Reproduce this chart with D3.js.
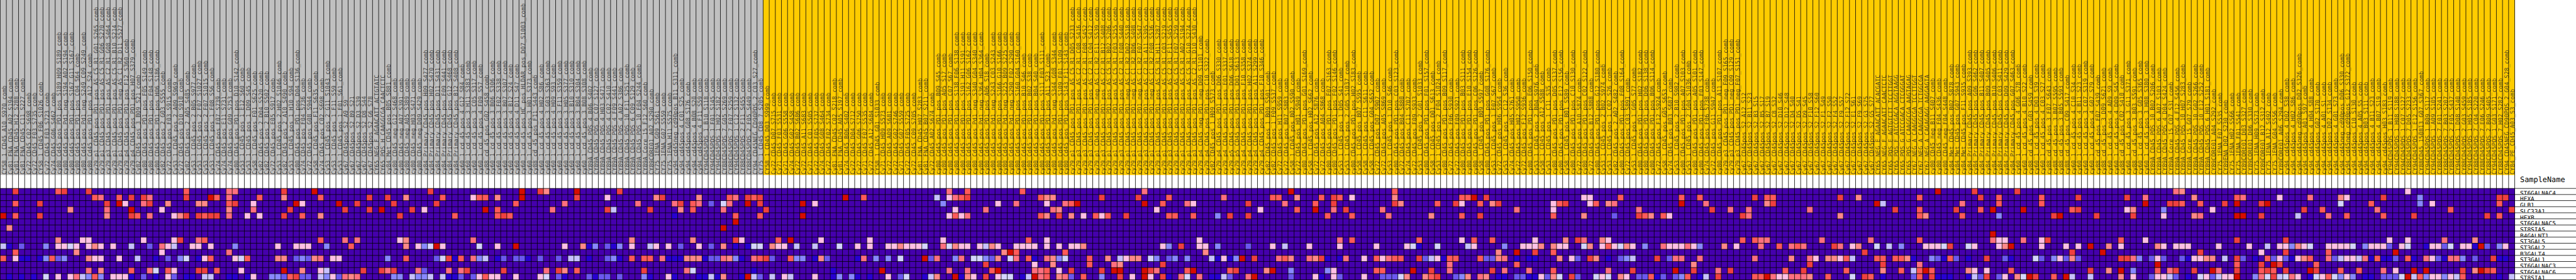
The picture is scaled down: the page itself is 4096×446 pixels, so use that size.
<!DOCTYPE html>
<html><head><meta charset="utf-8">
<script src="https://cdn.jsdelivr.net/npm/d3@7"></script>
<style>html,body{margin:0;padding:0;background:#fff;overflow:hidden}svg{display:block}text{font-family:"DejaVu Sans Mono",monospace;fill:#000;text-rendering:geometricPrecision}.sample{fill:#222;fill-opacity:.8}</style>
</head><body><div id="chart"></div>
<script>
const sampleNames = `CY58_1_CD45_A10_S970_comb Cy81_FNA_CD45_A02_S194_comb Cy81_FNA_CD45_H12_S288_comb Cy81_FNA_CD45_C11_S227_comb Cy72_CD45_C02_S698_comb Cy72_CD45_F03_S735_comb CY58_1_CD45_F06_S1026_comb Cy72_CD45_F03_S723_comb Cy74_CD45_G06_S462_comb cy80_Cd45_pos_PD1_pos_S189_H09_S189_comb cy80_Cd45_pos_Pd1_neg_S194_A02_S194_comb cy80_Cd45_pos_PD1_pos_S167_G11_S167_comb cy80_Cd45_pos_PD1_pos_C04_S64_comb cy80_Cd45_pos_Pd1_neg_S249_C09_S249_comb cy80_Cd45_pos_PD1_pos_A12_S24_comb cy79_p1_CD45_pos_PD1_pos_AS_C5_R1_G01_S265_comb cy79_p1_CD45_pos_PD1_pos_AS_C5_R1_G06_S270_comb cy79_p3_CD45_pos_PD1_pos_AS_C2_R1_G08_S464_comb cy79_p1_CD45_pos_PD1_pos_AS_C5_R1_B10_S214_comb cy79_p1_CD45_pos_PD1_neg_AS_C1_R2_D11_S527_comb cy79_p4_CD45_pos_PD1_pos_F12_S360_comb cy79_p4_CD45_pos_PD1_pos_H07_S379_comb Cy82_CD45_pos_3_B09_S21_comb cy80_CD45_pos_PD1_pos_F05_S149_comb cy80_CD45_pos_PD1_pos_F04_S148_comb cy80_CD45_pos_PD1_pos_H06_S186_comb Cy82_CD45_pos_2_G03_S555_comb Cy72_CD45_pos_F03_S915_comb Cy53_1_CD45_pos_2_A09_S969_comb Cy72_CD45_pos_D10_S910_comb Cy82_CD45_pos_2_A05_S485_comb Cy53_1_CD45_pos_2_B05_S977_comb Cy53_1_CD45_pos_2_F07_S1027_comb Cy53_1_CD45_pos_2_F07_S1015_comb Cy53_1_CD45_pos_1_F08_S56_comb Cy74_CD45_pos_F07_S739_comb Cy74_CD45_pos_E11_S731_comb Cy74_CD45_pos_G09_S753_comb cy80_CD45_pos_PD1_pos_D10_S142_comb Cy53_1_CD45_pos_1_E12_S60_comb Cy53_1_CD45_pos_1_D09_S45_comb Cy58_1_CD45_pos_F01_S625_comb
Cy82_CD45_pos_2_D04_S520_comb Cy82_CD45_pos_2_B10_S502_comb Cy72_CD45_pos_E05_S917_comb Cy53_1_CD45_pos_2_H02_S1046_comb Cy82_CD45_pos_2_A10_S490_comb Cy53_1_CD45_pos_1_H10_S94_comb cy80_CD45_pos_PD1_pos_D04_S136_comb Cy74_CD45_pos_F04_S736_comb Cy72_CD45_pos_G08_S944_comb Cy58_1_CD45_pos_F11_S635_comb Cy74_CD45_pos_C02_S698_comb Cy53_1_CD45_pos_2_G11_S1043_comb Cy53_1_CD45_pos_1_F11_S59_comb Cy53_1_CD45_pos_1_F01_S61_comb Cy67_CD45pos_S2_A9_S9 Cy67_CD45pos_S2_B9_S21 Cy67_CD45pos_S2_D3_S39 Cy67_CD45pos_S2_D8_S44 Cy67_CD45pos_S2_G6_S78 CY65_NEG_F_AGAACATT_ACTGTATC CY65_POS_H_CAAGGCGA_CAACTCTC cy84_Met_CD45_pos_B05_S881_comb cy80_CD45_neg_G12_S468_comb cy80_CD45_neg_A07_S391_comb cy80_CD45_neg_A05_S389_comb cy80_CD45_neg_H03_S471_comb cy80_CD45_neg_D09_S429_comb cy84_Primary_CD45_pos_H09_S477_comb cy84_Primary_CD45_pos_H02_S470_comb cy84_Primary_CD45_pos_D11_S431_comb cy84_Primary_CD45_pos_F09_S441_comb cy84_Primary_CD45_pos_G12_S468_comb cy84_Primary_CD45_pos_B12_S408_comb cy60_1_cd_45_pos_4_G12_S84_comb cy60_1_cd_45_pos_3_H11_S383_comb cy60_1_cd_45_pos_3_C05_S317_comb cy60_1_cd_45_pos_4_F09_S57_comb cy88_cd_45_pos_G02_S458_comb cy60_1_cd_45_pos_3_B06_S306_comb cy60_1_cd_45_pos_3_F02_S338_comb cy60_1_cd_45_pos_3_B07_S307_comb cy60_1_cd_45_pos_4_B12_S24_comb cy60_1_cd_45_pos_4_D11_S47_comb cy60_1_cd_45_pos_HC_pos_HLDAR_pos_D07_S1003_comb cy60_1_cd_45_pos_3_H01_S373_comb
cy88_cd_45_pos_F11_S443_comb cy60_1_cd_45_pos_4_H02_S86_comb cy60_1_cd_45_pos_3_G03_S363_comb cy60_1_cd_45_pos_4_H09_S93_comb cy60_1_cd_45_pos_3_F11_S359_comb cy60_1_cd_45_pos_3_H05_S377_comb cy60_1_cd_45_pos_3_B10_S310_comb cy60_1_cd_45_pos_3_B04_S304_comb cy60_1_cd_45_pos_3_B08_S308_comb CY89A_CD45_POS_4_B06_S402_comb CY89A_CD45_POS_6_C07_S127_comb CY89A_CD45_POS_4_H03_S471_comb CY89A_CD45_POS_4_C02_S410_comb CY89A_CD45_POS_4_F09_S441_comb CY89A_CD45_POS_4_A02_S386_comb CY89A_CD45_POS_10_F11_S251_comb CY89A_CD45_POS_6_C09_S129_comb CY89A_CD45_POS_10_F04_S244_comb CY89A_Core_15_F12_S60_comb CY89CORE01_A02_S290_comb CY75_1ENA_G09_S561_comb CY75_1ENA_G07_S559_comb CY75_1ENA_H11_S575_comb cy94_cd45neg_cd90pos_B11_S311_comb cy94_cd45pos_4_C01_S25_comb cy94_cd45pos_G08_S176_comb cy94_cd45pos_4_B08_S20_comb cy94_cd45pos_4_F11_S59_comb CY94CD45POS_1_B10_S118_comb CY94CD45POS_1_F01_S145_comb CY94CD45POS_1_H02_S182_comb CY88CD45POS_7_G05_S269_comb CY88CD45POS_7_F07_S259_comb CY94CD45POS_1_C12_S132_comb CY88CD45POS_2_F11_S455_comb CY88CD45POS_2_F05_S449_comb CY94_CD45NEG_CD90POS_2_C03_S27_comb CY75_1_CD45_CD8_7_S205_comb
CY58_1_CD45_D03_S999_comb Cy72_CD45_D07_S715_comb Cy71_CD45_F03_S531_comb Cy71_CD45_G06_S558_comb Cy74_CD45_G02_S458_comb Cy72_CD45_B02_S686_comb Cy72_CD45_A11_S683_comb Cy71_CD45_C01_S505_comb Cy72_CD45_F05_S737_comb Cy74_CD45_G08_S464_comb Cy72_CD45_F02_S734_comb Cy81_FNA_CD45_C02_S218_comb Cy81_FNA_CD45_A05_S197_comb Cy74_CD45_B06_S402_comb Cy72_CD45_D04_S712_comb Cy72_CD45_G06_S750_comb Cy71_CD45_F07_S535_comb Cy72_CD45_A12_S684_comb CY58_1_CD45_G01_S1033_comb Cy71_CD45_H09_S573_comb Cy72_CD45_A09_S681_comb Cy72_CD45_G02_S746_comb Cy71_CD45_G07_S559_comb Cy72_CD45_F05_S725_comb Cy72_CD45_C09_S705_comb Cy81_FNA_CD45_H07_S283_comb Cy81_FNA_CD45_B07_S211_comb Cy72_CD45_A02_S674_comb cy80_Cd45_pos_PD1_pos_B09_S45_comb cy80_Cd45_pos_PD1_pos_A05_S17_comb cy80_Cd45_pos_PD1_pos_C07_S67_comb cy80_Cd45_pos_PD1_pos_S138_F06_S138_comb cy80_Cd45_pos_PD1_pos_S191_H11_S191_comb cy80_Cd45_pos_PD1_pos_S162_G06_S162_comb cy80_Cd45_pos_Pd1_neg_S340_G04_S340_comb cy80_Cd45_pos_Pd1_neg_S364_H04_S364_comb cy80_Cd45_pos_PD1_pos_A06_S18_comb cy80_Cd45_pos_Pd1_neg_S243_C03_S243_comb cy80_Cd45_pos_PD1_pos_S166_G10_S166_comb cy80_Cd45_pos_Pd1_neg_S225_B09_S225_comb cy80_Cd45_pos_Pd1_neg_S290_F02_S290_comb cy80_Cd45_pos_PD1_pos_S160_G04_S160_comb cy80_Cd45_pos_PD1_pos_B10_S46_comb cy80_Cd45_pos_PD1_pos_B02_S38_comb cy80_Cd45_pos_PD1_pos_B04_S40_comb cy80_Cd45_pos_PD1_pos_S111_F03_S111_comb cy80_Cd45_pos_PD1_pos_A11_S23_comb cy80_Cd45_pos_Pd1_neg_S344_G08_S344_comb cy80_Cd45_pos_PD1_pos_S109_F01_S109_comb cy80_Cd45_pos_PD1_pos_S143_F11_S143_comb cy79_p1_CD45_pos_PD1_pos_AS_C5_R1_D05_S233_comb cy79_p3_CD45_pos_PD1_pos_AS_C2_R1_C08_S416_comb
cy79_p3_CD45_pos_PD1_pos_AS_C2_R1_F08_S452_comb cy79_p3_CD45_pos_PD1_pos_AS_C2_R1_C04_S412_comb cy79_p1_CD45_pos_PD1_neg_AS_C1_R2_E11_S539_comb cy79_p3_CD45_pos_PD1_pos_AS_C2_R1_B12_S408_comb cy79_p1_CD45_pos_PD1_pos_AS_C5_R1_B02_S206_comb cy79_p1_CD45_pos_PD1_pos_AS_C5_R1_F03_S255_comb cy79_p3_CD45_pos_PD1_pos_AS_C2_R1_F08_S440_comb cy79_p1_CD45_pos_PD1_neg_AS_C1_R2_D02_S518_comb cy79_p1_CD45_pos_PD1_neg_AS_C1_R2_B06_S498_comb cy79_p1_CD45_pos_PD1_neg_AS_C1_R2_F07_S547_comb cy79_p3_CD45_pos_PD1_pos_AS_C2_R1_A11_S395_comb cy79_p1_CD45_pos_PD1_neg_AS_C1_R2_F08_S536_comb cy79_p1_CD45_pos_PD1_pos_AS_C5_R1_H11_S287_comb cy79_p1_CD45_pos_PD1_pos_AS_C5_R1_C03_S219_comb cy79_p3_CD45_pos_PD1_pos_AS_C2_R1_F11_S455_comb cy79_p1_CD45_pos_PD1_pos_AS_C5_R1_F07_S259_comb cy79_p1_CD45_pos_PD1_pos_AS_C5_R1_A02_S194_comb cy79_p1_CD45_pos_PD1_pos_AS_C5_R1_G10_S274_comb cy79_p3_CD45_pos_PD1_pos_AS_C2_R1_D10_S430_comb cy79_p4_CD45_neg_PD1_neg_D09_S1101_comb cy79_p4_CD45_pos_PD1_pos_C10_S322_comb Cy82_CD45_pos_1_H09_S573_comb cy79_p4_CD45_pos_PD1_pos_D06_S330_comb cy79_p4_CD45_pos_PD1_pos_E01_S337_comb cy79_p5_CD45_pos_PD1_pos_D06_S618_comb cy79_p5_CD45_pos_PD1_pos_D01_S613_comb cy79_p4_CD45_pos_PD1_pos_F10_S358_comb cy79_p4_CD45_pos_PD1_pos_H02_S374_comb cy79_p4_CD45_pos_PD1_pos_A11_S299_comb cy79_p4_CD45_pos_PD1_pos_F10_S346_comb Cy82_CD45_pos_1_B09_S501_comb Cy82_CD45_pos_1_F09_S537_comb Cy72_CD45_pos_H11_S959_comb Cy72_CD45_pos_B07_S883_comb Cy58_1_CD45_pos_B02_S590_comb Cy72_CD45_pos_H01_S949_comb cy80_CD45_pos_PD1_pos_G01_S169_comb Cy58_1_CD45_pos_H02_S662_comb Cy72_CD45_pos_A12_S876_comb Cy72_CD45_pos_A04_S868_comb cy80_CD45_pos_PD1_pos_F07_S163_comb cy80_CD45_pos_PD1_pos_F02_S146_comb Cy53_1_CD45_pos_1_D05_S41_comb Cy53_1_CD45_pos_2_G05_S1037_comb cy80_CD45_pos_PD1_pos_H02_S183_comb
Cy58_1_CD45_pos_B07_S595_comb Cy58_1_CD45_pos_C11_S611_comb Cy58_1_CD45_pos_G04_S652_comb Cy72_CD45_pos_D07_S907_comb Cy72_CD45_pos_A05_S869_comb Cy53_1_CD45_pos_1_D10_S46_comb cy80_CD45_pos_PD1_pos_C03_S123_comb Cy72_CD45_pos_B04_S880_comb Cy74_CD45_pos_C11_S707_comb Cy72_CD45_pos_F09_S933_comb Cy53_1_CD45_pos_2_G01_S1033_comb cy80_CD45_pos_PD1_pos_F01_S157_comb Cy58_1_CD45_pos_D01_S613_comb Cy53_1_CD45_pos_2_F04_S1024_comb cy80_CD45_pos_PD1_pos_B09_S117_comb Cy72_CD45_pos_F06_S930_comb Cy72_CD45_pos_F09_S921_comb cy80_CD45_pos_PD1_pos_B03_S111_comb cy80_CD45_pos_PD1_pos_E10_S154_comb cy80_CD45_pos_PD1_pos_C06_S126_comb Cy58_1_CD45_pos_B09_S597_comb cy80_CD45_pos_PD1_pos_G08_S176_comb Cy53_1_CD45_pos_1_F07_S67_comb Cy72_CD45_pos_H06_S954_comb Cy53_1_CD45_pos_1_C12_S36_comb Cy74_CD45_pos_H05_S761_comb Cy72_CD45_pos_H02_S950_comb Cy72_CD45_pos_F12_S936_comb cy80_CD45_pos_PD1_pos_E06_S150_comb Cy53_1_CD45_pos_2_B04_S976_comb Cy58_1_CD45_pos_A12_S588_comb Cy53_1_CD45_pos_1_C11_S35_comb cy80_CD45_pos_PD1_pos_D05_S137_comb cy80_CD45_pos_PD1_pos_E12_S156_comb Cy58_1_CD45_pos_B01_S589_comb cy80_CD45_pos_PD1_pos_C10_S130_comb Cy72_CD45_pos_A10_S874_comb cy80_CD45_pos_PD1_pos_C02_S122_comb Cy72_CD45_pos_B12_S888_comb cy80_CD45_pos_PD1_pos_G12_S180_comb Cy53_1_CD45_pos_2_B02_S974_comb Cy53_1_CD45_pos_1_C02_S26_comb Cy82_CD45_pos_2_A02_S482_comb cy80_CD45_pos_PD1_pos_F08_S164_comb Cy72_CD45_pos_C03_S891_comb
Cy53_1_CD45_pos_1_G05_S77_comb cy80_CD45_pos_PD1_pos_H02_S182_comb cy80_CD45_pos_PD1_pos_D06_S138_comb cy80_CD45_pos_PD1_pos_B06_S114_comb Cy72_CD45_pos_F12_S924_comb Cy58_1_CD45_pos_G05_S653_comb Cy74_CD45_pos_B03_S687_comb Cy53_1_CD45_pos_2_B10_S982_comb cy80_CD45_pos_PD1_pos_A07_S103_comb Cy53_1_CD45_pos_2_G04_S1036_comb cy80_CD45_pos_PD1_pos_A05_S101_comb cy80_CD45_pos_PD1_pos_F03_S147_comb Cy74_CD45_pos_F06_S738_comb Cy72_CD45_pos_G11_S947_comb cy80_CD45_pos_PD1_pos_A11_S107_comb cy79_p3_CD45_pos_PD1_neg_F09_S165_comb cy79_p3_CD45_pos_PD1_neg_C09_S129_comb cy79_p3_CD45_pos_PD1_neg_F07_S151_comb Cy67_CD45pos_S2_A12_S12 Cy67_CD45pos_S2_B11_S23 Cy67_CD45pos_S2_B3_S15 Cy67_CD45pos_S2_B5_S17 Cy67_CD45pos_S2_B7_S19 Cy67_CD45pos_S2_C8_S32 Cy67_CD45pos_S2_D10_S46 Cy67_CD45pos_S2_D12_S48 Cy67_CD45pos_S2_D4_S40 Cy67_CD45pos_S2_D5_S41 Cy67_CD45pos_S2_D9_S45 Cy67_CD45pos_S2_F10_S58 Cy67_CD45pos_S2_F12_S60 Cy67_CD45pos_S2_F1_S49 Cy67_CD45pos_S2_F2_S50 Cy67_CD45pos_S2_F4_S52 Cy67_CD45pos_S2_F9_S57 Cy67_CD45pos_S2_F12_S72 Cy67_CD45pos_S2_E1_S61 Cy67_CD45pos_S2_F9_S69 Cy67_CD45pos_S2_G3_S75 Cy67_CD45pos_S2_G5_S77 CY65_NEG_E_AGAACATT_ACACGATC CY65_NEG_F_AGAACATT_CAACTCTC CY65_POS_E_AGTGTCTT_TCCTTGGT CY65_POS_F_ATCCGACA_AGGTAAGG CY65_POS_G_ATCCGACA_CTCGGGAT
CY65_POS_G_CAAGGCGA_AAGTAGAG CY67_NEG_A_CAAGGCGA_TCCTTGGT CY67_NEG_A_CAAGGCGA_TCTGGCGA CY67_NEG_A_CAGAGAGG_AAGGAGTA cy80_CD45_neg_B11_S407_comb cy80_CD45_neg_F04_S436_comb cy80_CD45_neg_F04_S448_comb cy84_Met_CD45_pos_B02_S878_comb cy84_Met_CD45_pos_G07_S943_comb cy84_Met_CD45_pos_F11_S935_comb cy84_Primary_CD45_pos_A09_S393_comb cy84_Primary_CD45_pos_G06_S462_comb cy84_Primary_CD45_pos_B11_S407_comb cy84_Primary_CD45_pos_B09_S405_comb cy84_Primary_CD45_pos_B10_S406_comb cy84_Primary_CD45_pos_C03_S411_comb cy84_Primary_CD45_pos_D09_S429_comb cy84_Primary_CD45_pos_G07_S463_comb cy60_1_cd_45_pos_4_G06_S78_comb cy60_1_cd_45_pos_4_B10_S22_comb cy88_cd_45_pos_G03_S459_comb cy60_1_cd_45_pos_4_D03_S39_comb cy60_1_cd_45_pos_4_C03_S27_comb cy88_cd_45_pos_3_F07_S643_comb cy88_cd_45_pos_3_B07_S595_comb cy88_cd_45_pos_3_B05_S593_comb cy88_cd_45_pos_C09_S417_comb cy60_1_cd_45_pos_4_C10_S34_comb cy60_1_cd_45_pos_4_B11_S23_comb cy60_1_cd_45_pos_3_C07_S319_comb cy60_1_cd_45_pos_4_G07_S79_comb cy88_cd_45_pos_F07_S439_comb cy88_cd_45_pos_3_D09_S621_comb cy60_1_cd_45_pos_4_A09_S9_comb cy60_1_cd_45_pos_4_D09_S45_comb cy88_cd_45_pos_C02_S410_comb cy60_1_cd_45_pos_3_G11_S371_comb cy88_cd_45_pos_3_B03_S591_comb cy60_1_cd_45_pos_3_G05_S365_comb cy60_1_cd_45_pos_3_H08_S380_comb CY89A_CD45_POS_10_B02_S206_comb CY89A_CD45_POS_6_A07_S103_comb CY89A_CD45_POS_4_D04_S424_comb CY89A_Core_15_C07_S31_comb CY89A_CD45_POS_4_F12_S456_comb
CY89A_CD45_POS_10_H07_S283_comb CY89A_Core_15_G07_S79_comb CY89A_CD45_POS_10_G02_S266_comb CY89A_CD45_POS_10_E12_S252_comb CY89A_CD45_POS_6_H01_S181_comb CY89CORE01_A04_S292_comb CY75_1ENA_F07_S535_comb CY89ENA_D02_S230_comb CY75_1ENA_H02_S566_comb CY75_1ENA_F01_S541_comb CY89CORE01_D03_S327_comb CY89CORE01_D06_S330_comb CY75_1ENA_H09_S573_comb CY89CORE01_B12_S312_comb CY75_1ENA_A12_S492_comb CY75_1ENA_G04_S556_comb CY89CORE01_A06_S294_comb cy94_cd45pos_4_D02_S38_comb cy94_cd45pos_4_H02_S86_comb cy94_cd45neg_cd90pos_D02_S326_comb cy94_cd45pos_A01_S97_comb cy94_cd45pos_4_H04_S88_comb cy94_cd45pos_G02_S170_comb cy94_cd45pos_4_A01_S1_comb cy94_cd45pos_D02_S134_comb cy94_cd45pos_4_G01_S73_comb cy94_cd45neg_cd90pos_D06_S330_comb cy94_cd45neg_cd90pos_G12_S372_comb cy94_cd45pos_C10_S130_comb cy94_cd45pos_4_A05_S5_comb cy94_cd45pos_B03_S111_comb cy94_cd45pos_4_B11_S23_comb cy94_cd45pos_4_B07_S19_comb cy94_cd45pos_H03_S183_comb CY94CD45POS_1_B11_S119_comb CY94CD45POS_1_H08_S188_comb CY94CD45POS_1_C07_S127_comb CY88CD45POS_7_D05_S233_comb CY94CD45POS_1_E12_S156_comb CY88CD45_150813_G07_S367_comb CY94CD45POS_1_B09_S117_comb CY94CD45POS_1_A09_S105_comb CY88CD45POS_7_F01_S241_comb CY88CD45POS_7_B03_S207_comb CY88CD45POS_2_F05_S437_comb
CY94CD45POS_1_D08_S140_comb CY88CD45POS_2_G03_S459_comb CY94CD45POS_1_H05_S185_comb CY88CD45POS_7_C04_S220_comb CY88CD45POS_7_E06_S246_comb CY88CD45POS_2_B09_S405_comb CY94CD45POS_1_G03_S171_comb CY88CD45POS_7_H02_S282_comb CY94_CD45NEG_CD90POS_2_G04_S28_comb CY84_PE_CD45_A03_S3_comb`.split(/\s+/);

const groupNames = ["gray", "yellow"];
const groupCounts = [125, 287];
const groupColours = ["#C0C0C0", "#FFCC00"];

const geneNames = ["ST6GALNAC4","HEXA","GLB1","SLC33A1","HEXB","ST6GALNAC5","ST8SIA5","B4GALNT1","ST3GAL5","ST3GAL2","B3GALT4","ST3GAL1","ST6GALNAC3","ST6GALNAC6","ST8SIA1"];

// colour levels of the heat map, low to high; unlisted cells are at level "o"
const levelCodes = ["o","b","m","p","l","w","k","s","h","r","a","d"];
const levelColours = ["#4500AD","#2700D1","#6B58EF","#8888FF","#C7C1FF","#D5D5FF","#FFC0E5","#FF8989","#FF7080","#FF5A5A","#EF4040","#D60C00"];

// each gene: [first column of a block, "offset+level ..."]
const ST6GALNAC4 = [[0,"2a 9r 10a 14a 30r 37h 38h"],[42,"4a 9d 28a 43d"],[87,"1a 2s 7d 14a"],[132,"23h 26r 35r"],[177,"10h 34d"],[222,"6r"],[312,"5d 11a 18a 44h"],[357,"0s 37k"]];
const HEXA = [[0,"15r 16h 19r 21a 23a 24h 30a 34d 35r 37h"],[42,"0r 4s 10r 18a 21a 24s 30r 35k 36r 37r 39s 43d"],[87,"7a 12k 20s 21a 27s 32r 33h 35a 36r 37a"],[132,"6d 9r 21l 23k 24h 25r 26a 38r 39s 40s"],[177,"3a 9a 14r 23h 31r 32r 35s 39r 41a 42r 44k"],[222,"6s 17r 18r 19d 21a 37k 38k 43r"],[267,"8r 11r 20a 22r 23r 34a 37s"],[312,"2r 12a 15r 22r 28a 36a 39h"],[357,"2s 9r 10h 16k 21h 26s 27k 33a 39p"],[402,"7a 8a"]];
const GLB1 = [[0,"2r 6a 17a 19d 20k 23h 24a 27s 32s 33s 37r 38a 41k"],[42,"6d 7k 13d 16a 22a 29a 42r"],[87,"5h 17h 23h 24a 26r 27h 29m 31w 32h 35d 37a 44d"],[132,"1k 22p 31k 34h 39k 42h 43r 44d"],[177,"10d 13r 17h 18k 27a 33h 38r 41a"],[222,"6a 7s 13r 16a 17k 20r 22s 23a 32k 33r 34a 38k 39r 41s 42h"],[267,"8d 12h 22s 23a 40d 41l"],[312,"9h 15r 22r 39d 43a 44a"],[357,"0r 3r 7a 9d 13a 14d 26w 31r 39p 41k"],[402,"7r"]];
const SLC33A1 = [[0,"11s 17h 21d 26k 37s 41h"],[42,"5a 14a 18a 20d 25a 27k 37d 39r"],[87,"3h 12a 13l 19a 24s 26r 31h 38a"],[132,"24k 29h 40h 41s"],[177,"12k 29k 35r 38d 41h 43a"],[222,"4h 26h 32k"],[267,"1h 13a 16h 19h 29h 43a"],[312,"2r 8a 12r 14d 19d 27r 28a 36k 37s 42p"],[357,"5k 20a 23r 32h 44r"],[402,"9a"]];
const HEXB = [[0,"0d 2r 6a 17s 21a 22r 24h 28k 29s 30a 32a 33r 34a 35a 37h 40k"],[42,"0k 4a 7r 10s 23a 32r 39r 40a 41r"],[87,"23b 33r 37r 44d"],[132,"23k 24r 25k 26h 38r 39s 41a 43s"],[177,"0k 2r 3k 4r 7a 14r 15r 18r 22p 24a 27a 40r 44r"],[222,"5h 12s 17r 20a 32r 37s 42m"],[267,"1a 2r 3s 5r 6k 18a 19h 34s"],[312,"2r 3s 9r 15p 24a 25d 31a 37a 42k"],[357,"2s 3h 9d 10d 13a 19l 24h 27r 33r 38a"],[402,"5a 7r"]];
const ST6GALNAC5 = [[87,"33d"]];
const ST8SIA5 = [[0,"1s"],[87,"31d"]];
const B4GALNT1 = [[312,"14d"]];
const ST3GAL5 = [[0,"9s 13k 14k 23k 28k 29a 32h 33r"],[42,"10r 14h 16h 23k 24s 35h"],[87,"16s 26s 33a 34k 40r 42d"],[132,"2k 10k 22k 36r 39k"],[177,"19k 42h 44r"],[222,"10r 17k 19r 22r 29k 34s 36a 37h 40s 41k"],[267,"18r 20r 21h 22h 31h 39h"],[312,"2r 14h 15k 16k 19h 22k 23a 35r 39k"],[357,"9a 17a 34k 37k 43h"],[402,"3s"]];
const ST3GAL2 = [[0,"0l 1b 3m 7p 9k 10k 11w 12k 14k 15s 16k 18k 21l 24m 26h 27k 28l 31k 32k 34k 38p"],[42,"3k 6k 7k 8k 11p 15r 24s 26k 27p 28w 29d 30k 36w 39k 42d"],[87,"5k 8s 9b 10p 12m 13b 14p 16k 19l 20k 22k 24m 27k 29m 31s 33b 35b 36w 37w 39s 40k 41k 43l"],[132,"1l 5w 8k 10k 13k 14k 15s 16k 17k 18k 19w 22h 23w 24s 25k 26k 28k 29l 30s 31k 34k 35k 36k 37k 39k 41k 43k 44k"],[177,"0s 13k 14p 16a 19k 20k 22p 27m 31k 33l 37k 42k"],[222,"3k 8k 9w 10b 13w 18l 19k 24p 27k 28k 29k 30s 32s 33k 34k 37w 38s 40k 41r 42k 43w 44s"],[267,"0k 2p 5h 6k 7k 8k 9h 10k 11p 15s 17k 21h 24r 26h 27r 28h 33a 34h 36k 37s 40w 42l 44p"],[312,"3k 4k 5k 6w 7a 10w 11k 15k 16s 17d 22k 26k 28k 30d 33s 35k 41s 42k 44k"],[357,"0k 1k 6k 11k 14l 16k 17k 18p 19s 20k 21w 24k 25k 26k 27k 28w 30p 31k 32k 33k 34m 36k 37w 40b 41k 42k 43m 44w"],[402,"1k 2k 3b 4d 5m 7p 8k"]];
const B3GALT4 = [[0,"2r 12s 26k 37h"],[132,"32s 33d 34r 42r"],[177,"20s"],[222,"23s 26d 29a 32r"],[267,"38a"],[312,"27a 32d"],[357,"3a 13k 17a 24r 35d"]];
const ST3GAL1 = [[0,"0r 2k 3b 4b 6b 7p 8r 9m 10p 14s 15k 16k 19k 22l 25b 27m 29p 30w 32b 33k 34r 38k 39w 40r"],[42,"3s 4s 6m 7p 8m 9s 10h 12k 13k 21p 24r 29m 30w 31a 32b 33r 35h 36p 37l 39b 40m 42m 43m 44b"],[87,"1m 4m 6l 7l 9b 12m 13p 14b 16r 18r 19r 21h 22b 23b 24b 25s 26s 27s 28b 29m 30m 31h 32s 33p 34b 36h 37r 38a 39m 42r 43p 44p"],[132,"1b 2s 3m 8b 9h 11p 13p 15w 19d 20m 21h 24p 25h 27w 28w 29p 30m 31s 33w 34h 36r 37b 39h 40s 41p 42w"],[177,"1r 4s 6l 7k 8s 9s 11w 12p 14m 15p 17p 21l 22b 23k 24b 25p 26d 28a 32h 33r 34s 37h 38s 39a 40b 42b 43h"],[222,"1k 3r 4k 5h 6r 7r 10a 11m 12l 13k 14b 15r 16r 20r 21m 22m 23s 24h 26b 28b 29b 33s 35k 36m 38a 39s 41b 43m 44p"],[267,"0l 4a 6m 7h 8h 11h 20h 26s 29h 30k 32s 33s 34k 35r 36l 40r 41r 43r 44r"],[312,"0s 1b 4p 5m 6b 7r 8m 10b 13a 16m 17b 21w 22m 24p 25k 26m 27s 28m 35a 36a 37h 38p 40m 41k 42m"],[357,"0m 1b 2k 3k 4s 5s 7l 9a 10m 12b 14r 15m 16k 17m 18b 19k 20s 21r 24h 25m 26l 27k 28k 29l 30h 31b 32r 33b 34b 35m 37r 38b 40h 41k 42m 43b 44h"],[402,"0h 1p 3m 6a 7b 8b"]];
const ST6GALNAC3 = [[132,"29a 37k 40s"],[177,"1r 5h 6s 13a"],[222,"15h 26r"],[267,"10s 29a 41a"],[312,"2h 41d"],[357,"9r 13a 15d 16a 22r"]];
const ST6GALNAC6 = [[0,"14h 16s 21r 24h 25w 27r 28k 32a 33a 35r 39k"],[42,"4d 7s 10k 11l 17a 20a 21h 22a 26h 27m 31h 33h 34a 40a"],[87,"2h 4a 5s 7r 18a 25h 26w 36b"],[132,"4b 12d 23h 26h 30r 31d 37h 38h 39r 41k 43a"],[177,"3a 5d 6d 10d 11a 12h 17r 18d 24r 25a 30s 31d 34p 40p 41k"],[222,"3r 4r 9d 12a 15h 22a 24h 28h 32r 41h"],[267,"0a 7d 10a 14h 16a 25r 28a 35r 41s 44r"],[312,"1l 2r 3d 4r 10s 11k 13k 17r 30a 33s 35d 37p 41r 43h 44a"],[357,"2a 5d 6h 9a 13r 14a 15r 17a 21d 22a 26r 29r 33h 35k 38d 40d"],[402,"1a 3s 4d 5a 6r"]];
const ST8SIA1 = [[0,"1b 3b 5b 7w 9k 11k 12h 13l 14p 15r 16p 18k 19k 20k 21b 23m 25b 27k 28m 30b 31b 33l 34l 37b 38b 40b 41k"],[42,"2p 3p 4m 5r 6a 7m 8m 10l 11p 12k 13m 14h 15s 16h 22p 23p 25l 26p 27p 28l 30l 31b 32b 33m 35m 36k 37r 38k 39k 42k"],[87,"1k 2w 4m 5b 9m 10b 11m 12m 14m 18p 19b 22k 23b 27b 28b 29l 30b 31s 34b 35d 36l 37m 39l 41k 42l"],[132,"1k 4b 5p 7p 8b 10b 13k 15m 16w 19b 20l 21s 24d 25b 26s 27k 29a 31k 32w 33w 35b 36l 37d 38h 39r 41s 42h 43m"],[177,"0r 3p 6a 8k 10d 11k 13a 14b 16h 17w 19h 21b 22b 23l 24m 27h 28d 34m 38k 39b 41k 42m"],[222,"1k 4m 5m 6m 7w 8s 11s 12r 13a 16m 17p 18s 20h 21s 23b 24b 26m 27m 28b 29b 30k 31m 32s 33w 35a 36m 39w 40k 41w 43s 44k"],[267,"1m 2m 3r 4b 5m 7m 8p 9r 11b 12l 14a 20r 21r 22d 23h 24k 25k 26h 27h 28h 29s 32r 36w 38a 39r 41b"],[312,"1m 2r 4a 5b 6b 7b 10b 11l 12m 13a 15m 16k 18s 19w 20d 21a 24r 26d 27l 30l 35s 37k 40m 41k 42k 43l 44m"],[357,"1b 3w 4k 5m 6l 7k 8k 9d 12p 13h 14w 15a 16l 17w 18h 19k 21b 22w 23k 24r 25w 26p 27k 28p 30b 31b 33m 34m 35m 36w 37d 38l 39r 40p 41k 42k 43p 44k"],[402,"0l 1r 7b 9l"]];
const geneRows = [ST6GALNAC4,HEXA,GLB1,SLC33A1,HEXB,ST6GALNAC5,ST8SIA5,B4GALNT1,ST3GAL5,ST3GAL2,B3GALT4,ST3GAL1,ST6GALNAC3,ST6GALNAC6,ST8SIA1];

const refW = 5065, refH = 552;
const svg = d3.select("#chart").append("svg")
  .attr("width", 4096).attr("height", 446)
  .attr("viewBox", `0 0 ${refW} ${refH}`)
  .attr("preserveAspectRatio", "none");
svg.append("rect").attr("width", refW).attr("height", refH).attr("fill", "#fff");

const columnIds = sampleNames.map((_, i) => i);
const x = d3.scaleBand().domain(columnIds).range([0.5, 4944.5]);
const y = d3.scaleBand().domain(geneNames).range([371.5, 551.5]);
const colour = d3.scaleOrdinal(levelCodes, levelColours);
const bandBottom = 345;

// sample-class band
const groupOf = [];
groupCounts.forEach((n, g) => { for (let i = 0; i < n; i++) groupOf.push(g); });
svg.append("g").selectAll("rect").data(columnIds).join("rect")
  .attr("x", d => x(d)).attr("y", 0)
  .attr("width", x.bandwidth() + 0.2).attr("height", bandBottom)
  .attr("fill", d => groupColours[groupOf[d]]);

// heat-map cells
const cells = [];
geneRows.forEach((blocks, r) => {
  const row = new Map();
  blocks.forEach(([start, txt]) => txt.split(" ").forEach(tok => {
    row.set(start + parseInt(tok, 10), tok.slice(-1));
  }));
  columnIds.forEach(c => cells.push({ gene: geneNames[r], col: c, level: row.get(c) || "o" }));
});
svg.append("g").attr("shape-rendering", "crispEdges").selectAll("rect").data(cells).join("rect")
  .attr("x", d => x(d.col)).attr("y", d => y(d.gene))
  .attr("width", x.bandwidth()).attr("height", y.bandwidth())
  .attr("fill", d => colour(d.level));

// sample labels
svg.append("g").selectAll("text").data(sampleNames).join("text").attr("class", "sample")
  .attr("transform", (d, i) => `translate(${x(i) + x.bandwidth() - 0.2},344) rotate(-90)`)
  .attr("font-size", 11.68)
  .text(d => d);

// grid
const grid = svg.append("g").attr("stroke", "#000").attr("stroke-width", 1);
grid.selectAll("line.v").data(columnIds.concat([sampleNames.length])).join("line").attr("class", "v")
  .attr("x1", d => d < sampleNames.length ? x(d) : x.range()[1])
  .attr("x2", d => d < sampleNames.length ? x(d) : x.range()[1])
  .attr("y1", 0).attr("y2", refH);
grid.selectAll("line.h").data(geneNames.concat(["end"])).join("line").attr("class", "h")
  .attr("x1", x.range()[0]).attr("x2", refW)
  .attr("y1", d => d === "end" ? y.range()[1] : y(d))
  .attr("y2", d => d === "end" ? y.range()[1] : y(d));

// gene labels, cut off by the row they sit in
const rowBoxes = svg.append("g").selectAll("svg").data(geneNames).join("svg")
  .attr("x", x.range()[1] + 10).attr("y", d => y(d) + 0.5)
  .attr("width", 110).attr("height", y.bandwidth() - 1);
rowBoxes.append("text").attr("x", 0.5).attr("y", 12.6).attr("font-size", 11.68).text(d => d);

svg.append("text").attr("x", x.range()[1] + 10.5).attr("y", 358.5).attr("font-size", 14.7).text("SampleName");
</script></body></html>
